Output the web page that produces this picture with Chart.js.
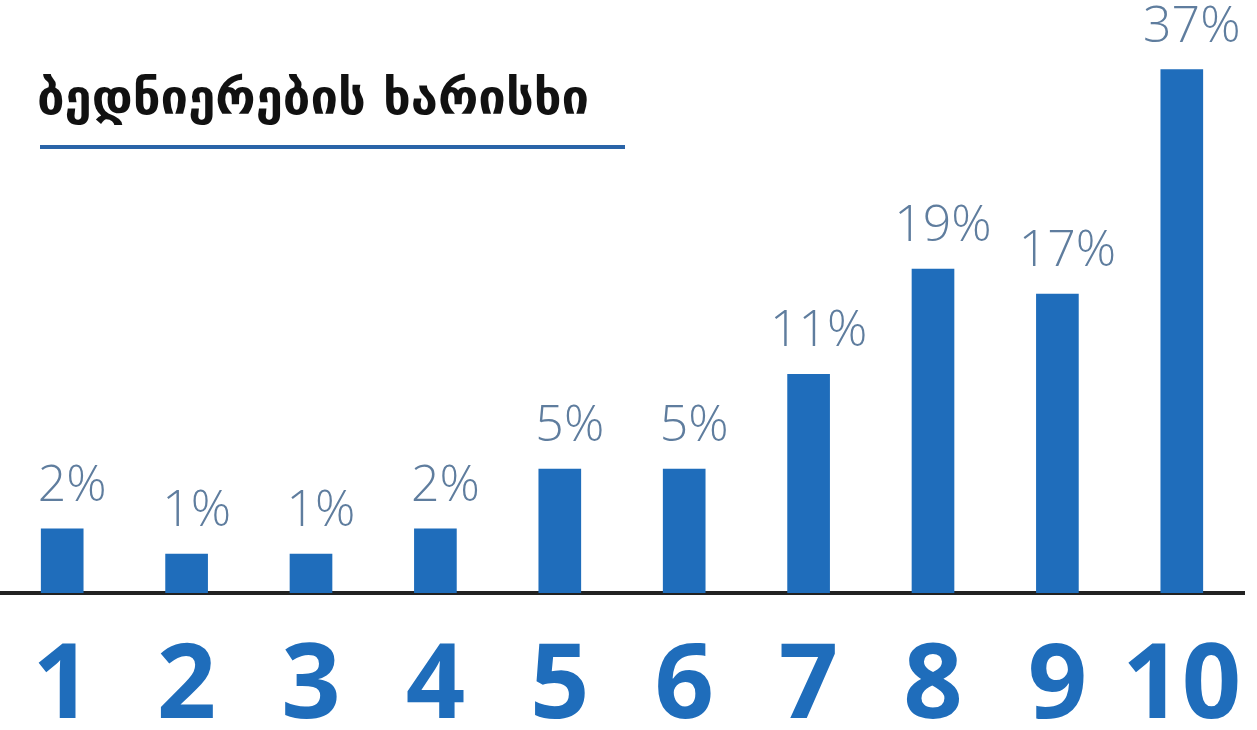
<!DOCTYPE html>
<html>
<head>
<meta charset="utf-8">
<script src="https://cdn.jsdelivr.net/npm/chart.js@4.4.1/dist/chart.umd.min.js"></script>
<style>
    body { margin: 0; background: #ffffff; }
    #wrap { width: 1257px; height: 730px; position: relative; }
</style>
</head>
<body>
<div id="wrap"><canvas id="happinessChart"></canvas></div>
<script>
// Chart data
const titleText = 'ბედნიერების ხარისხი';
const levels = ['1', '2', '3', '4', '5', '6', '7', '8', '9', '10'];
const shares = [2, 1, 1, 2, 5, 5, 11, 19, 17, 37];

const barBlue = '#1f6dbb';
const labelGrey = '#5f7d9e';

// The original infographic stretches small bars, so use a power (compressed) value axis
const SCALE_EXP = 0.72;

class PowerScale extends Chart.LinearScale {
    determineDataLimits() {
        super.determineDataLimits();
        this.min = Math.pow(Math.max(this.min, 0), SCALE_EXP);
        this.max = Math.pow(this.max, SCALE_EXP);
    }
    getPixelForValue(value) {
        if (value === null || value === undefined) return super.getPixelForValue(value);
        return super.getPixelForValue(Math.pow(Math.max(value, 0), SCALE_EXP));
    }
    getValueForPixel(pixel) {
        return Math.pow(super.getValueForPixel(pixel), 1 / SCALE_EXP);
    }
}
PowerScale.id = 'power';
PowerScale.defaults = Chart.LinearScale.defaults;
Chart.register(PowerScale);

// Percent labels above bars + heading with underline
const annotations = {
    id: 'annotations',
    afterDatasetsDraw(chart) {
        const ctx = chart.ctx;
        const meta = chart.getDatasetMeta(0);
        ctx.save();
        ctx.fillStyle = labelGrey;
        ctx.font = '300 50px "Open Sans", sans-serif';
        ctx.textAlign = 'center';
        ctx.textBaseline = 'alphabetic';
        meta.data.forEach((bar, i) => {
            ctx.fillText(shares[i] + '%', bar.x + 10, bar.y - 28);
        });

        // heading
        ctx.fillStyle = '#111111';
        ctx.font = 'bold 49px "DejaVu Sans", sans-serif';
        ctx.textAlign = 'left';
        ctx.fillText(titleText, 37, 114);

        ctx.strokeStyle = '#2a64a8';
        ctx.lineWidth = 4;
        ctx.beginPath();
        ctx.moveTo(40, 147);
        ctx.lineTo(625, 147);
        ctx.stroke();
        ctx.restore();
    }
};

new Chart(document.getElementById('happinessChart'), {
    type: 'bar',
    data: {
        labels: levels,
        datasets: [{
            data: shares,
            backgroundColor: barBlue,
            barThickness: 42
        }]
    },
    options: {
        responsive: true,
        maintainAspectRatio: false,
        animation: false,
        layout: { padding: { left: 0, right: 13, top: 0, bottom: 0 } },
        plugins: {
            legend: { display: false },
            tooltip: { enabled: false }
        },
        scales: {
            x: {
                grid: { display: false, drawTicks: false },
                border: { display: true, color: '#222222', width: 4 },
                ticks: {
                    color: barBlue,
                    padding: 33,
                    autoSkip: false,
                    maxRotation: 0,
                    minRotation: 0,
                    font: { family: '"Open Sans", sans-serif', size: 104, weight: 'bold' }
                },
                afterFit(scale) {
                    scale.height = 137;
                    // big tick labels should not squeeze the plot sideways
                    scale.paddingLeft = 0;
                    scale.paddingRight = 0;
                }
            },
            y: {
                type: 'power',
                display: false,
                min: 0,
                max: 44,
                bounds: 'data'
            }
        }
    },
    plugins: [annotations]
});
</script>
</body>
</html>
